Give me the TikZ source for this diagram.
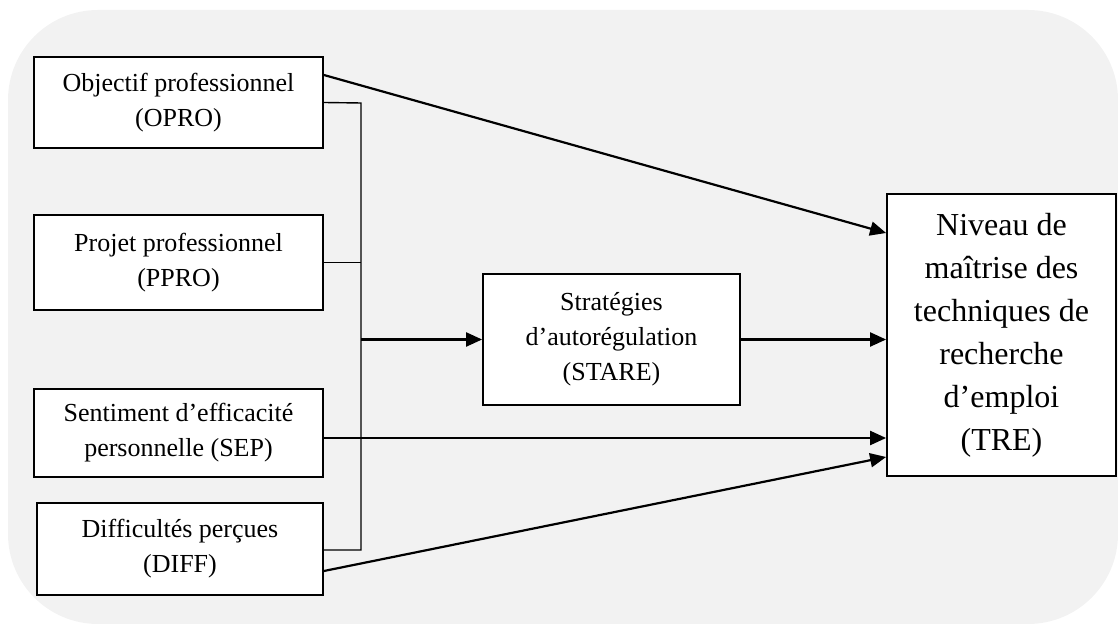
\documentclass[tikz,border=0pt]{standalone}
\usepackage{fontspec}
\setmainfont{Liberation Serif}
\usetikzlibrary{arrows.meta,positioning}
\definecolor{bggray}{HTML}{F2F2F2}
\tikzset{
  varbox/.style={draw,line width=0.9pt,fill=white,align=center,inner sep=0pt,
    font=\fontsize{13}{17.5}\selectfont},
  link/.style={line width=0.7pt},
  flow/.style={line width=1.1pt,-{Triangle[length=8pt,width=7pt]}}
}
\begin{document}
\begin{tikzpicture}[x=0.5pt,y=-0.5pt]
        \useasboundingbox (0,0) rectangle (1118,624);
        \fill[bggray,rounded corners=45pt] (8,10) rectangle (1118,624);

        \node[varbox,minimum width=144.5pt,minimum height=45.5pt] (opro) at (178.5,102.5)
          {Objectif professionnel\\(OPRO)};
        \node[varbox,minimum width=144.5pt,minimum height=47.5pt] (ppro) at (178.5,262.5)
          {Projet professionnel\\(PPRO)};
        \node[varbox,minimum width=144.5pt,minimum height=44pt] (sep) at (178.5,433)
          {Sentiment d’efficacité\\personnelle (SEP)};
        \node[varbox,minimum width=143pt,minimum height=46pt] (diff) at (180,549)
          {Difficultés perçues\\(DIFF)};
        \node[varbox,minimum width=128.5pt,minimum height=65.5pt] (stare) at (611.5,339.5)
          {Stratégies\\d’autorégulation\\(STARE)};
        \node[varbox,minimum width=114.5pt,minimum height=141pt,
          font=\fontsize{16}{21.5}\selectfont] (tre) at (1001.5,335)
          {Niveau de\\maîtrise des\\techniques de\\recherche\\d’emploi\\(TRE)};

        \coordinate (busT) at (361,103);
        \coordinate (busB) at (361,550);
        \draw[link] (opro.east) -- (busT) -- (busB) -- (diff.east |- busB);
        \draw[link] (ppro.east) -- (ppro.east -| busT);

        \draw[flow] (busT |- stare.west) -- (stare.west);
        \draw[flow] (stare.east) -- (stare.east -| tre.west);
        \draw[flow] ([yshift=-2.5pt]sep.east) -- ([yshift=-2.5pt]sep.east -| tre.west);
        \draw[flow] ([yshift=13.75pt]opro.east) -- ([yshift=51pt]tre.west);
        \draw[flow] ([yshift=-11pt]diff.east) -- ([yshift=-61pt]tre.west);
\end{tikzpicture}
\end{document}
